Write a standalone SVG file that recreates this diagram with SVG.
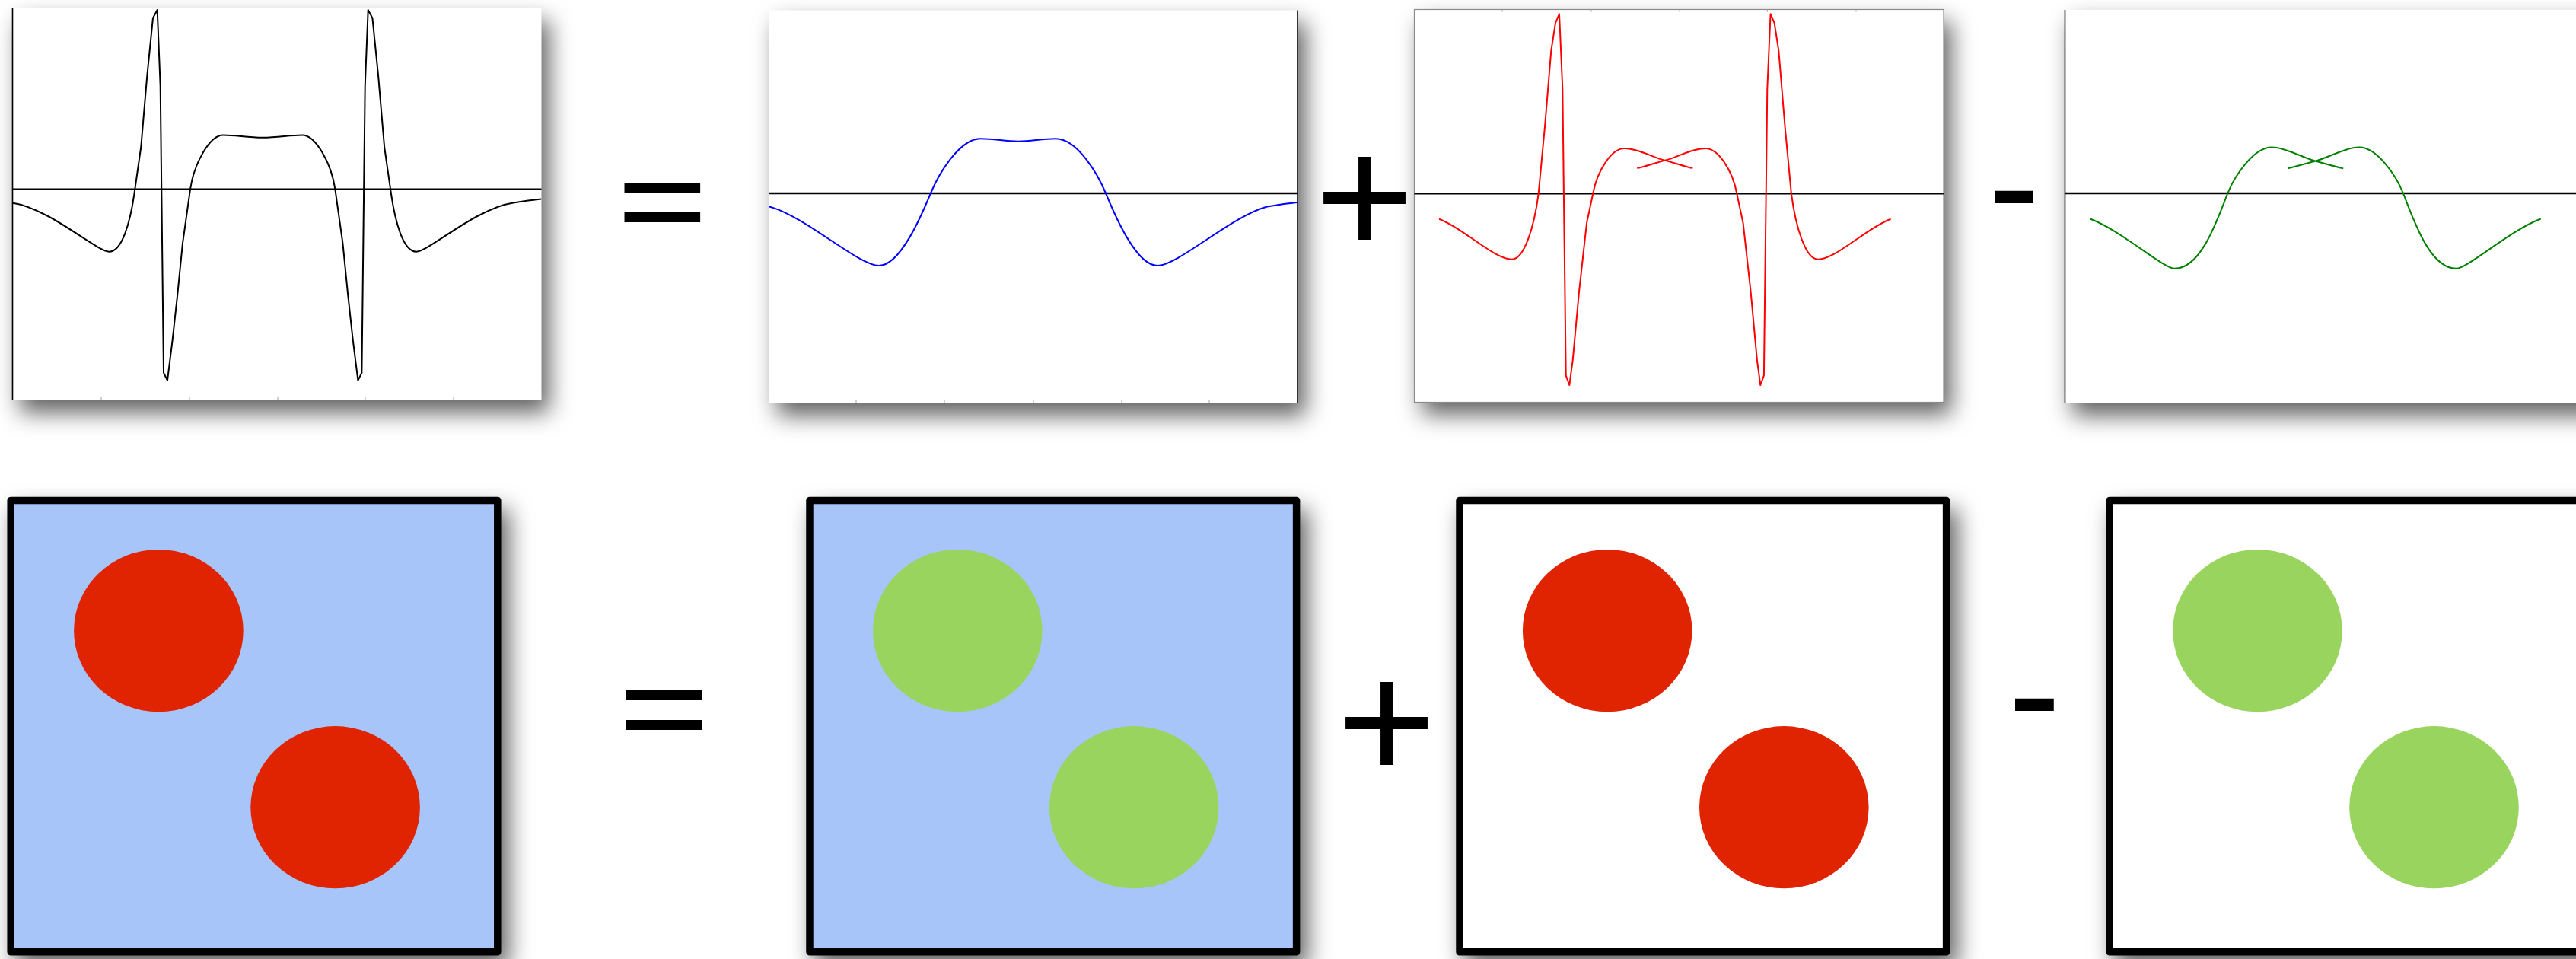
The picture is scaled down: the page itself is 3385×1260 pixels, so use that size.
<svg xmlns="http://www.w3.org/2000/svg" width="3385" height="1260" viewBox="0 0 3385 1260">
<defs>
<filter id="shadow" x="-12%" y="-12%" width="132%" height="138%" color-interpolation-filters="sRGB">
<feDropShadow dx="10" dy="16" stdDeviation="15" flood-color="#000" flood-opacity="0.62"/>
</filter>
<style>
.panel{fill:#fff;filter:url(#shadow)}
.edge-dark{stroke:#000;stroke-width:1.6;fill:none}
.edge-light{stroke:#8a8a8a;stroke-width:1.2;fill:none}
.tick{stroke:#a0a0a0;stroke-width:1}
.axis{stroke:#000;stroke-width:2.4}
.curve{fill:none;stroke-width:2;stroke-linejoin:round}
.box{stroke:#000;stroke-width:9.5;stroke-linejoin:round;filter:url(#shadow)}
.water{fill:#A8C5FA}
.plain{fill:#fff}
.red{fill:#E02300}
.green{fill:#98D45E}
.op{font-family:"Liberation Sans",Arial,sans-serif;fill:#000;text-anchor:middle}
.eq{stroke:#000;stroke-width:2.5}
</style>
</defs>
<rect width="3385" height="1260" fill="#fff"/>

<g id="plot-total">
<rect class="panel" x="16" y="11" width="695.5" height="515"/>
<line class="edge-light" x1="16" y1="525.5" x2="711.5" y2="525.5"/>
<path class="tick" d="M133,522V525M249,522V525M365,522V525M480,522V525M596,522V525"/>
<line class="edge-dark" x1="16.5" y1="11" x2="16.5" y2="526"/>
<line class="axis" x1="16" y1="248.7" x2="711.5" y2="248.7"/>
<path class="curve" stroke="#000" transform="translate(345.2 248.7)" d="M-329.2,17.7 C-280,25 -218,82 -201.9,82 C-185,82 -174,45 -167.9,0 L-159.9,-55.7 L-151.9,-149 L-144.2,-225 L-138.5,-235.7 L-134.5,-135.7 L-130.2,241 L-125.2,251 L-118.5,197.7 L-111.9,137.7 L-105.2,71 L-95.2,0 C-90.5,-33 -70,-71.3 -51.9,-71.3 C-35,-71.3 -20,-68 0,-68 C20,-68 35,-71.3 51.9,-71.3 C70,-71.3 90.5,-33 95.2,0 L105.2,71 L111.9,137.7 L118.5,197.7 L125.2,251 L130.2,241 L134.5,-135.7 L138.5,-235.7 L144.2,-225 L151.9,-149 L159.9,-55.7 L167.9,0 C174,45 185,82 201.9,82 C218,82 280,25 329.2,17.7 C345,15.4 356,13.5 366,12.7"/>
</g>

<g id="plot-background">
<rect class="panel" x="1011" y="13.5" width="694.5" height="516.5"/>
<line class="edge-light" x1="1011" y1="529.5" x2="1705.5" y2="529.5"/>
<path class="tick" d="M1125,526V529M1241,526V529M1358,526V529M1474,526V529M1589,526V529"/>
<line class="edge-dark" x1="1705" y1="13.5" x2="1705" y2="530"/>
<line class="axis" x1="1011" y1="254" x2="1705" y2="254"/>
<path class="curve" stroke="#0000FF" transform="translate(1338 254)" d="M-327,17.5 C-280,30 -210,95 -183,95 C-155,95 -127.1,29 -115.1,0 C-105.1,-24 -78,-71.7 -49.4,-71.7 C-30,-71.7 -18,-68.3 0,-68.3 C18,-68.3 30,-71.7 49.4,-71.7 C78,-71.7 105.1,-24 115.1,0 C127.1,29 155,95 183,95 C210,95 280,30 327,17.5 C345,14.5 356,12.8 367.5,12"/>
</g>

<g id="plot-objects">
<rect class="panel" x="1858.5" y="12.5" width="695.5" height="516"/>
<rect class="edge-light" x="1858.5" y="12.5" width="695.5" height="516"/>
<path class="tick" d="M1974,12.5V15.5M2091,12.5V15.5M2207,12.5V15.5M2322.5,12.5V15.5M2439,12.5V15.5"/>
<line class="axis" x1="1858.5" y1="254.3" x2="2554" y2="254.3"/>
<path class="curve" stroke="#FF0000" transform="translate(2187.8 254.3)" d="M-296.8,33.4 C-265,45 -225,86.4 -201.1,86.4 C-185,86.4 -172,45 -166.1,0 L-157.8,-87.6 L-149.5,-187.6 L-143.8,-224.3 L-138.8,-236 L-134.5,-137.6 L-130.1,239 L-125.5,251.7 L-121.1,219 L-112.8,129 L-102.8,39 L-94.5,0 C-89,-30 -70,-59.3 -53.5,-59.3 C-35,-59.3 -15,-47 0,-43.6 C12,-40.5 25,-36 36.5,-33.3 M296.8,33.4 C265,45 225,86.4 201.1,86.4 C185,86.4 172,45 166.1,0 L157.8,-87.6 L149.5,-187.6 L143.8,-224.3 L138.8,-236 L134.5,-137.6 L130.1,239 L125.5,251.7 L121.1,219 L112.8,129 L102.8,39 L94.5,0 C89,-30 70,-59.3 53.5,-59.3 C35,-59.3 15,-47 0,-43.6 C-12,-40.5 -25,-36 -36.5,-33.3"/>
</g>

<g id="plot-smooth">
<rect class="panel" x="2713" y="13" width="700" height="517"/>
<line class="edge-dark" x1="2713.5" y1="13" x2="2713.5" y2="530"/>
<line class="axis" x1="2713" y1="254" x2="3385" y2="254"/>
<path class="curve" stroke="#008000" stroke-width="1.8" transform="translate(3042.6 254)" d="M-296.1,33.5 C-255,49 -200,98.8 -185,98.8 C-150,98.8 -129.3,35 -115.3,0 C-105.3,-25 -80,-60.4 -57.8,-60.4 C-40,-60.4 -17,-47 0.7,-42.2 C13,-38.8 25,-35.5 36.6,-32.6 M296.1,33.5 C255,49 200,98.8 185,98.8 C150,98.8 129.3,35 115.3,0 C105.3,-25 80,-60.4 57.8,-60.4 C40,-60.4 17,-47 -0.7,-42.2 C-13,-38.8 -25,-35.5 -36.6,-32.6"/>
</g>

<g id="box-total">
<rect class="box water" x="14.2" y="657.4" width="639.6" height="593.4"/>
<ellipse class="red" cx="208.4" cy="828.6" rx="111.3" ry="106.6"/>
<ellipse class="red" cx="440.6" cy="1060.7" rx="111.3" ry="106.6"/>
</g>

<g id="box-background">
<rect class="box water" x="1064" y="657.4" width="639.6" height="593.4"/>
<ellipse class="green" cx="1258.3" cy="828.6" rx="111.3" ry="106.6"/>
<ellipse class="green" cx="1490.2" cy="1060.7" rx="111.3" ry="106.6"/>
</g>

<g id="box-objects">
<rect class="box plain" x="1918" y="657.4" width="639.6" height="593.4"/>
<ellipse class="red" cx="2112.2" cy="828.6" rx="111.3" ry="106.6"/>
<ellipse class="red" cx="2344.3" cy="1060.7" rx="111.3" ry="106.6"/>
</g>

<g id="box-smooth">
<rect class="box plain" x="2772.2" y="657.4" width="639.6" height="593.4"/>
<ellipse class="green" cx="2966.5" cy="828.6" rx="111.3" ry="106.6"/>
<ellipse class="green" cx="3198.5" cy="1060.7" rx="111.3" ry="106.6"/>
</g>

<g id="connectors"></g>

<g id="operators">
<text class="op eq" x="0" y="66.5" font-size="200" transform="translate(870.4 266) scale(1 0.77)">=</text>
<text class="op" x="1793" y="334.6" font-size="222">+</text>
<text class="op" x="2646.5" y="313.8" font-size="208">-</text>
<text class="op eq" x="0" y="66.5" font-size="200" transform="translate(873 933) scale(1 0.77)">=</text>
<text class="op" x="1822" y="1024.9" font-size="222">+</text>
<text class="op" x="2673.5" y="980.7" font-size="208">-</text>
</g>
</svg>
